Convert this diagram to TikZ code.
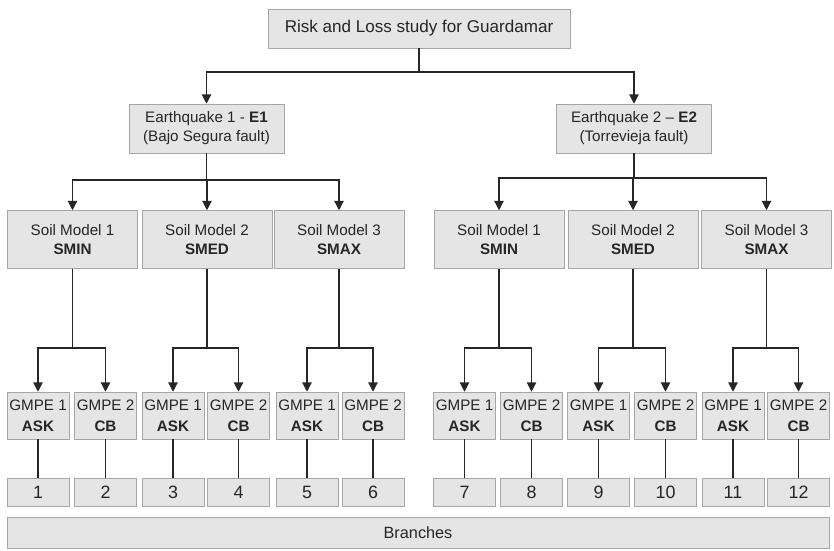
\documentclass[tikz,border=0pt]{standalone}
\usepackage{fontspec}
\setmainfont{Liberation Sans}
\usetikzlibrary{arrows.meta, calc}

\tikzset{
  box/.style={draw=black!35, fill=black!10, inner sep=0pt, align=center,
    text=black!85, font=\fontsize{11.4}{14.2}\selectfont},
  topbox/.style={box, minimum width=226.5pt, minimum height=29.25pt,
    font=\fontsize{12.8}{15}\selectfont},
  quakebox/.style={box, minimum width=116.25pt, minimum height=36.75pt},
  soilbox/.style={box, minimum width=97.5pt, minimum height=43.5pt},
  gmpebox/.style={box, minimum width=46.5pt, minimum height=35.25pt,
    font=\fontsize{11.4}{15.5}\selectfont},
  numbox/.style={box, minimum width=46.5pt, minimum height=21pt,
    font=\fontsize{13.4}{15}\selectfont},
  branchbox/.style={box, minimum width=616.5pt, minimum height=23.25pt,
    font=\fontsize{12.2}{15}\selectfont},
  link/.style={draw=black!85, line width=0.9pt},
  arr/.style={link, -{Triangle[length=7pt,width=7pt]}}
}

\begin{document}
\begin{tikzpicture}[x=0.75pt,y=-0.75pt]
  \useasboundingbox (0,0) rectangle (834,550);

  \node[topbox] (risk) at (419,28.5) {Risk and Loss study for Guardamar};

  % Earthquakes
  \node[quakebox] (e1) at (206.5,128.5) {Earthquake 1 - \textbf{E1}\\(Bajo Segura fault)};
  \node[quakebox] (e2) at (634,128.5) {Earthquake 2 – \textbf{E2}\\(Torrevieja fault)};

  % Soil models
  \node[soilbox] (s11) at (72.5,239.5)  {Soil Model 1\\\textbf{SMIN}};
  \node[soilbox] (s12) at (207,239.5)   {Soil Model 2\\\textbf{SMED}};
  \node[soilbox] (s13) at (339,239.5)   {Soil Model 3\\\textbf{SMAX}};
  \node[soilbox] (s21) at (499,239.5)   {Soil Model 1\\\textbf{SMIN}};
  \node[soilbox] (s22) at (633,239.5)   {Soil Model 2\\\textbf{SMED}};
  \node[soilbox] (s23) at (766.5,239.5) {Soil Model 3\\\textbf{SMAX}};

  % GMPEs
  \node[gmpebox] (g1)  at (38,415.5)    {GMPE 1\\\textbf{ASK}};
  \node[gmpebox] (g2)  at (105.5,415.5) {GMPE 2\\\textbf{CB}};
  \node[gmpebox] (g3)  at (173,415.5)   {GMPE 1\\\textbf{ASK}};
  \node[gmpebox] (g4)  at (238.5,415.5) {GMPE 2\\\textbf{CB}};
  \node[gmpebox] (g5)  at (307,415.5)   {GMPE 1\\\textbf{ASK}};
  \node[gmpebox] (g6)  at (373,415.5)   {GMPE 2\\\textbf{CB}};
  \node[gmpebox] (g7)  at (464.5,415.5) {GMPE 1\\\textbf{ASK}};
  \node[gmpebox] (g8)  at (531.5,415.5) {GMPE 2\\\textbf{CB}};
  \node[gmpebox] (g9)  at (598.5,415.5) {GMPE 1\\\textbf{ASK}};
  \node[gmpebox] (g10) at (665.5,415.5) {GMPE 2\\\textbf{CB}};
  \node[gmpebox] (g11) at (733,415.5)   {GMPE 1\\\textbf{ASK}};
  \node[gmpebox] (g12) at (798.5,415.5) {GMPE 2\\\textbf{CB}};

  % Branch numbers
  \node[numbox] (n1)  at (38,492)    {1};
  \node[numbox] (n2)  at (105.5,492) {2};
  \node[numbox] (n3)  at (173,492)   {3};
  \node[numbox] (n4)  at (238.5,492) {4};
  \node[numbox] (n5)  at (307,492)   {5};
  \node[numbox] (n6)  at (373,492)   {6};
  \node[numbox] (n7)  at (464.5,492) {7};
  \node[numbox] (n8)  at (531.5,492) {8};
  \node[numbox] (n9)  at (598.5,492) {9};
  \node[numbox] (n10) at (665.5,492) {10};
  \node[numbox] (n11) at (733,492)   {11};
  \node[numbox] (n12) at (798.5,492) {12};

  \node[branchbox] (branches) at (418,532.5) {Branches};

  % risk -> earthquakes
  \coordinate (r0) at (419,72);
  \draw[link] (risk) -- (r0);
  \draw[arr] (r0) -| (e1);
  \draw[arr] (r0) -| (e2);

  % earthquakes -> soil models
  \coordinate (q1) at (206.5,180);
  \draw[link] (e1) -- (q1);
  \draw[arr] (q1) -| (s11);
  \draw[arr] (q1) -| (s12);
  \draw[arr] (q1) -| (s13);

  \coordinate (q2) at (634,178);
  \draw[link] (e2) -- (q2);
  \draw[arr] (q2) -| (s21);
  \draw[arr] (q2) -| (s22);
  \draw[arr] (q2) -| (s23);

  % soil models -> GMPEs
  \coordinate (m11) at (72.5,348);
  \draw[link] (s11) -- (m11);
  \draw[arr] (m11) -| (g1);
  \draw[arr] (m11) -| (g2);

  \coordinate (m12) at (207,348);
  \draw[link] (s12) -- (m12);
  \draw[arr] (m12) -| (g3);
  \draw[arr] (m12) -| (g4);

  \coordinate (m13) at (339,348);
  \draw[link] (s13) -- (m13);
  \draw[arr] (m13) -| (g5);
  \draw[arr] (m13) -| (g6);

  \coordinate (m21) at (499,348);
  \draw[link] (s21) -- (m21);
  \draw[arr] (m21) -| (g7);
  \draw[arr] (m21) -| (g8);

  \coordinate (m22) at (633,348);
  \draw[link] (s22) -- (m22);
  \draw[arr] (m22) -| (g9);
  \draw[arr] (m22) -| (g10);

  \coordinate (m23) at (766.5,348);
  \draw[link] (s23) -- (m23);
  \draw[arr] (m23) -| (g11);
  \draw[arr] (m23) -| (g12);

  % GMPEs -> branch numbers
  \draw[link] (g1) -- (n1);
  \draw[link] (g2) -- (n2);
  \draw[link] (g3) -- (n3);
  \draw[link] (g4) -- (n4);
  \draw[link] (g5) -- (n5);
  \draw[link] (g6) -- (n6);
  \draw[link] (g7) -- (n7);
  \draw[link] (g8) -- (n8);
  \draw[link] (g9) -- (n9);
  \draw[link] (g10) -- (n10);
  \draw[link] (g11) -- (n11);
  \draw[link] (g12) -- (n12);

\end{tikzpicture}
\end{document}
